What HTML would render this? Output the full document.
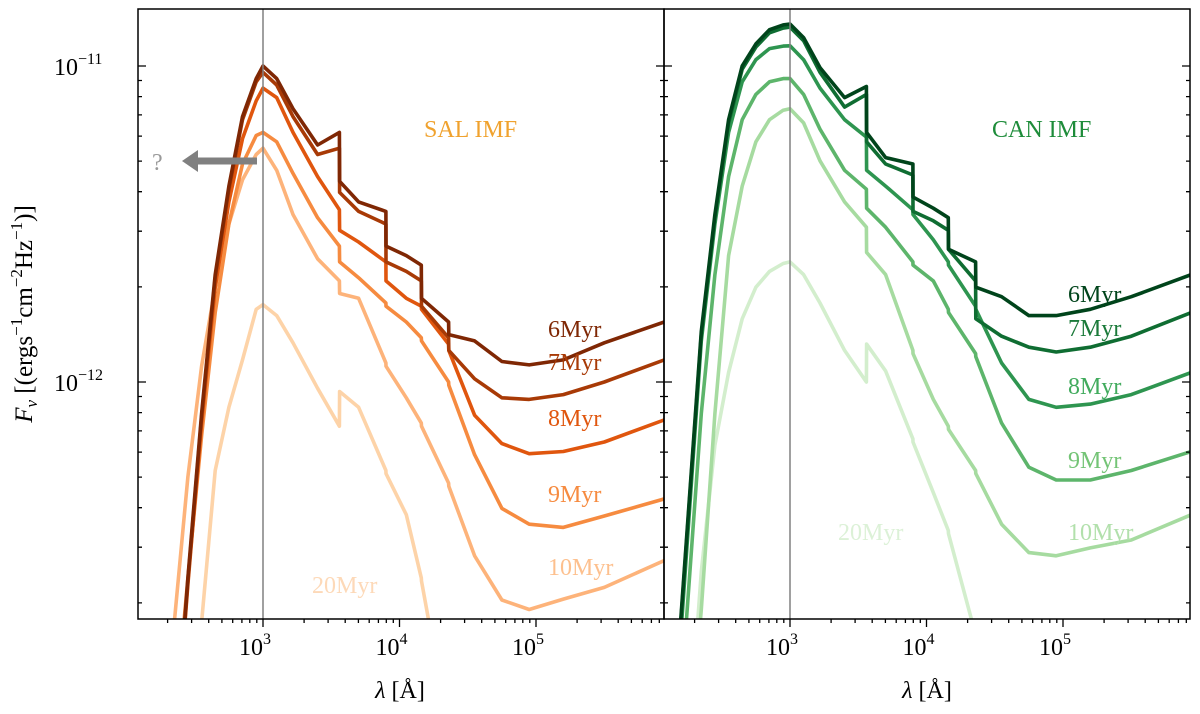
<!DOCTYPE html>
<html><head><meta charset="utf-8">
<style>
html,body{margin:0;padding:0;background:#fff;width:1200px;height:714px;overflow:hidden;}
svg{display:block;font-family:"Liberation Serif",serif;}
</style></head>
<body>
<svg id="chart" width="1200" height="714" viewBox="0 0 1200 714" xmlns="http://www.w3.org/2000/svg">
  <g id="marks"></g>
  <g id="axes"></g>
  <text transform="translate(32,314) rotate(-90)" text-anchor="middle" font-size="25"><tspan font-style="italic">F</tspan><tspan font-style="italic" font-size="17" dy="5">ν</tspan><tspan dy="-5"> [(ergs</tspan><tspan font-size="17" dy="-10">−1</tspan><tspan dy="10">cm</tspan><tspan font-size="17" dy="-10">−2</tspan><tspan dy="10">Hz</tspan><tspan font-size="17" dy="-10">−1</tspan><tspan dy="10">)]</tspan></text>
  <text x="400" y="698" text-anchor="middle" font-size="24"><tspan font-style="italic">λ</tspan> [Å]</text>
  <text x="927" y="698" text-anchor="middle" font-size="24"><tspan font-style="italic">λ</tspan> [Å]</text>
  <text x="424" y="137" font-size="24" fill="#f0a22e">SAL IMF</text>
  <text x="992" y="137" font-size="24" fill="#1e8c3a">CAN IMF</text>
  <g>
    <line x1="257" y1="161" x2="196" y2="161" stroke="#808080" stroke-width="7"/>
    <polygon points="182,161 198,150 198,172" fill="#808080"/>
    <text x="152" y="170" font-size="24" fill="#999">?</text>
  </g>
</svg>
<script>
// shared log10(lambda [Å]) grid
const grid = [2.20,2.35,2.45,2.55,2.65,2.75,2.85,2.95,3.00,3.10,3.22,3.40,3.56,3.561,3.70,3.90,3.901,4.05,4.16,4.161,4.36,4.361,4.55,4.75,4.95,5.20,5.50,5.94];
const ages = ["6Myr","7Myr","8Myr","9Myr","10Myr","20Myr"];
// log10(F_nu) values, SAL IMF
const sal6  = [-14.5,-13.2,-12.62,-12.1,-11.66,-11.38,-11.16,-11.04,-11.0,-11.04,-11.135,-11.25,-11.21,-11.365,-11.43,-11.46,-11.57,-11.60,-11.63,-11.735,-11.81,-11.85,-11.87,-11.935,-11.946,-11.93,-11.876,-11.81];
const sal7  = [-14.5,-13.2,-12.63,-12.11,-11.67,-11.39,-11.17,-11.05,-11.02,-11.06,-11.16,-11.28,-11.26,-11.40,-11.46,-11.50,-11.62,-11.65,-11.68,-11.76,-11.86,-11.90,-11.99,-12.05,-12.055,-12.04,-12.0,-11.93];
const sal8  = [-14.5,-13.2,-12.64,-12.13,-11.70,-11.43,-11.23,-11.11,-11.07,-11.10,-11.21,-11.35,-11.455,-11.52,-11.557,-11.62,-11.68,-11.735,-11.76,-11.77,-11.88,-11.90,-12.105,-12.195,-12.227,-12.22,-12.19,-12.12];
const sal9  = [-14.5,-13.1,-12.62,-12.17,-11.78,-11.50,-11.31,-11.22,-11.21,-11.24,-11.34,-11.48,-11.57,-11.62,-11.67,-11.75,-11.76,-11.81,-11.86,-11.87,-12.0,-12.01,-12.23,-12.40,-12.45,-12.46,-12.424,-12.37];
const sal10 = [-13.6,-12.76,-12.3,-11.95,-11.70,-11.50,-11.36,-11.28,-11.26,-11.33,-11.47,-11.61,-11.68,-11.72,-11.735,-11.94,-11.95,-12.05,-12.13,-12.14,-12.32,-12.33,-12.55,-12.69,-12.72,-12.687,-12.65,-12.565];
const sal20 = [-15,-14,-13.4,-12.76,-12.28,-12.08,-11.93,-11.77,-11.755,-11.79,-11.876,-12.02,-12.14,-12.03,-12.08,-12.28,-12.29,-12.42,-12.62,-12.63,-13.1,-13.1,-13.6,-14,-14,-14,-14,-14];
// log10(F_nu) values, CAN IMF
const can6  = [-12.75,-11.84,-11.47,-11.17,-11.0,-10.93,-10.885,-10.87,-10.867,-10.91,-11.005,-11.10,-11.065,-11.21,-11.29,-11.31,-11.415,-11.45,-11.48,-11.58,-11.62,-11.70,-11.73,-11.79,-11.79,-11.77,-11.73,-11.66];
const can7  = [-12.76,-11.85,-11.48,-11.18,-11.01,-10.94,-10.895,-10.88,-10.877,-10.92,-11.02,-11.13,-11.09,-11.24,-11.31,-11.345,-11.46,-11.49,-11.52,-11.58,-11.68,-11.80,-11.855,-11.89,-11.905,-11.89,-11.855,-11.78];
const can8  = [-12.8,-11.87,-11.5,-11.21,-11.05,-10.98,-10.945,-10.937,-10.936,-10.98,-11.07,-11.17,-11.225,-11.33,-11.38,-11.455,-11.47,-11.55,-11.62,-11.63,-11.76,-11.77,-11.94,-12.055,-12.08,-12.07,-12.04,-11.97];
const can9  = [-13.0,-12.1,-11.66,-11.35,-11.17,-11.09,-11.05,-11.04,-11.04,-11.09,-11.20,-11.33,-11.39,-11.45,-11.51,-11.62,-11.63,-11.68,-11.77,-11.78,-11.91,-11.92,-12.13,-12.27,-12.31,-12.31,-12.28,-12.22];
const can10 = [-13.5,-12.72,-12.1,-11.6,-11.38,-11.24,-11.17,-11.14,-11.135,-11.18,-11.30,-11.43,-11.51,-11.59,-11.66,-11.90,-11.91,-12.055,-12.14,-12.15,-12.28,-12.29,-12.45,-12.54,-12.55,-12.525,-12.50,-12.42];
const can20 = [-13.5,-12.6,-12.2,-11.97,-11.8,-11.7,-11.65,-11.625,-11.62,-11.66,-11.75,-11.90,-12.0,-11.88,-11.965,-12.18,-12.19,-12.35,-12.47,-12.48,-12.8,-12.8,-13.3,-14,-14,-14,-14,-14];
const xTickExps = [3,4,5];
const yTickExps = [-11,-12];

const NS = "http://www.w3.org/2000/svg";
const marks = document.getElementById('marks');
const axes = document.getElementById('axes');
const TOP = 9, BOT = 619, DEC = 136.5, YDEC = 316;
const panels = [
  {name:'sal', x0:138, x1:664, c3:263, series:[sal20,sal10,sal9,sal8,sal7,sal6],
   colors:['#fdd3a8','#fdb37a','#f68b40','#e0560e','#a83a06','#7f2704'],
   labelColors:['#fdd9b8','#fdc08e','#f68b40','#e0560e','#a83a06','#7f2704'],
   labelPos:[[312,593],[548,575],[548,502],[548,426],[548,370],[548,337]]},
  {name:'can', x0:664, x1:1190, c3:790, series:[can20,can10,can9,can8,can7,can6],
   colors:['#d3eecd','#a6dba0','#5db56b','#2e9550','#0f6d32','#00441b'],
   labelColors:['#dcf1d7','#b2e0ac','#74c476','#41ab5d','#1b7a3a','#00441b'],
   labelPos:[[838,540],[1068,540],[1068,468],[1068,394],[1068,336],[1068,302]]}
];
const ageOrder = ["20Myr","10Myr","9Myr","8Myr","7Myr","6Myr"];
function yAt(f){ return 66 + (-11 - f)*YDEC; }

panels.forEach((p,pi)=>{
  const xAt = l => p.c3 + (l-3)*DEC;
  const cp = document.createElementNS(NS,'clipPath');
  cp.setAttribute('id','clip'+pi);
  const r = document.createElementNS(NS,'rect');
  r.setAttribute('x',p.x0); r.setAttribute('y',TOP); r.setAttribute('width',p.x1-p.x0); r.setAttribute('height',BOT-TOP);
  cp.appendChild(r); marks.appendChild(cp);
  const g = document.createElementNS(NS,'g');
  g.setAttribute('clip-path','url(#clip'+pi+')');
  
  
  marks.appendChild(g);
  p.series.forEach((s,si)=>{
    const d = s.map((v,i)=>(i?'L':'M')+xAt(grid[i]).toFixed(1)+','+yAt(v).toFixed(1)).join(' ');
    const path = document.createElementNS(NS,'path');
    path.setAttribute('d',d);
    path.setAttribute('fill','none');
    path.setAttribute('stroke',p.colors[si]);
    path.setAttribute('stroke-width','3.6');
    path.setAttribute('stroke-linejoin','round');
    
    
    g.appendChild(path);
    const t = document.createElementNS(NS,'text');
    t.setAttribute('x',p.labelPos[si][0]); t.setAttribute('y',p.labelPos[si][1]);
    t.setAttribute('font-size','24'); t.setAttribute('fill',p.labelColors[si]);
    t.textContent = ageOrder[si];
    
    
    marks.appendChild(t);
  });
  const vl = document.createElementNS(NS,'line');
  vl.setAttribute('x1',p.c3); vl.setAttribute('x2',p.c3); vl.setAttribute('y1',TOP); vl.setAttribute('y2',BOT);
  vl.setAttribute('stroke','#808080'); vl.setAttribute('stroke-width','1.5');
  
  
  marks.appendChild(vl);
  const fr = document.createElementNS(NS,'rect');
  fr.setAttribute('x',p.x0); fr.setAttribute('y',TOP); fr.setAttribute('width',p.x1-p.x0); fr.setAttribute('height',BOT-TOP);
  fr.setAttribute('fill','none'); fr.setAttribute('stroke','#000'); fr.setAttribute('stroke-width','1.5');
  
  
  axes.appendChild(fr);
  let tk = '';
  for(let e=2;e<=5;e++){
    for(let m=1;m<=9;m++){
      const x = xAt(e+Math.log10(m));
      if(x<p.x0||x>p.x1) continue;
      tk += 'M'+x.toFixed(1)+','+BOT+'v'+(m===1?8:4)+' ';
    }
  }
  for(let e=-14;e<=-10;e++){
    for(let m=1;m<=9;m++){
      const y = yAt(e+Math.log10(m));
      if(y<TOP||y>BOT) continue;
      const L = m===1?8:4;
      tk += 'M'+p.x0+','+y.toFixed(1)+'h'+L+' M'+p.x1+','+y.toFixed(1)+'h'+(-L)+' ';
    }
  }
  const tp = document.createElementNS(NS,'path');
  tp.setAttribute('d',tk); tp.setAttribute('stroke','#000'); tp.setAttribute('stroke-width','1.3');
  
  
  axes.appendChild(tp);
  xTickExps.forEach(e=>{
    const t = document.createElementNS(NS,'text');
    t.setAttribute('x',xAt(e)-8); t.setAttribute('y',655);
    t.setAttribute('text-anchor','middle'); t.setAttribute('font-size','24');
    t.innerHTML = '10<tspan font-size="16" dy="-11">'+e+'</tspan>';
    
    
    axes.appendChild(t);
  });
});
yTickExps.forEach(e=>{
  const t = document.createElementNS(NS,'text');
  t.setAttribute('x',54); t.setAttribute('y',yAt(e)+9);
  t.setAttribute('font-size','24');
  t.innerHTML = '10<tspan font-size="16" dy="-11">−'+Math.abs(e)+'</tspan>';
  
  
  axes.appendChild(t);
});
</script>
</body></html>
